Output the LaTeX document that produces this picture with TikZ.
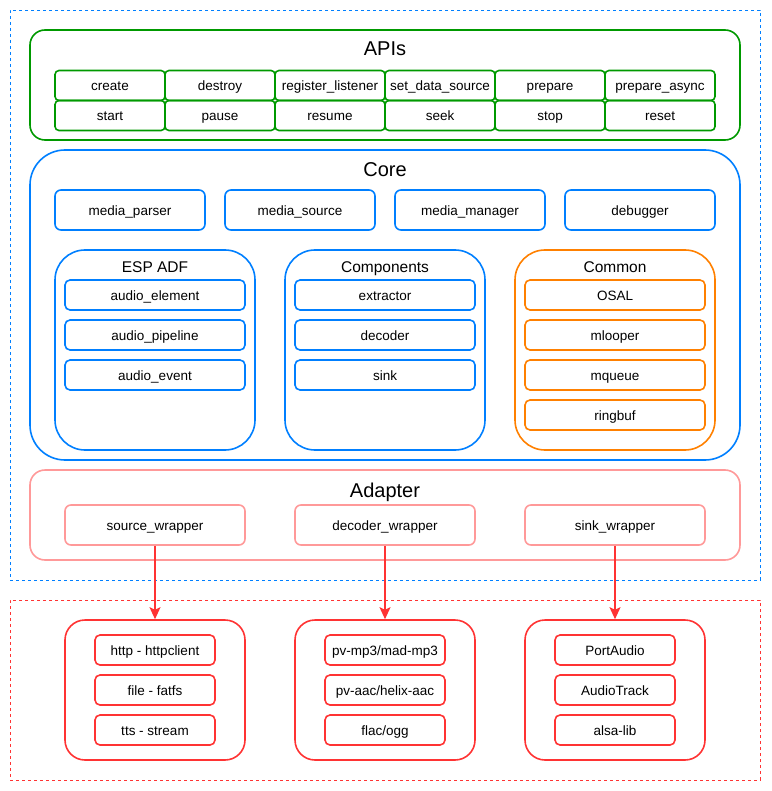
\documentclass[tikz,border=0pt]{standalone}
\usepackage{fontspec}
\setmainfont{Liberation Sans}
\usetikzlibrary{positioning, arrows.meta}
\definecolor{apigreen}{HTML}{009900}
\definecolor{coreblue}{HTML}{007FFF}
\definecolor{commonorange}{HTML}{FF8000}
\definecolor{adapterpink}{HTML}{FF9999}
\definecolor{libred}{HTML}{FF3333}
\tikzstyle{layerbox} = [dash pattern=on 3pt off 3pt, line width=0.8pt, rectangle, inner sep=0pt]
\tikzstyle{bigtitle} = [font=\fontsize{20}{24}\selectfont, inner sep=0pt, text height=14.5pt, text depth=4pt]
\tikzstyle{grouptitle} = [font=\fontsize{15.5}{18}\selectfont, inner sep=0pt, text height=11pt, text depth=3pt]
\tikzstyle{itemtext} = [inner sep=0pt, text height=11pt, text depth=0pt, font=\fontsize{13.5}{16}\selectfont]
\tikzstyle{apibox} = [draw=apigreen, line width=1.6pt, rectangle, rounded corners=15pt, minimum width=710pt, minimum height=110pt]
\tikzstyle{apicell} = [itemtext, draw=apigreen, line width=1.6pt, rectangle, rounded corners=4pt, minimum width=110pt, minimum height=30pt]
\tikzstyle{corebox} = [draw=coreblue, line width=1.6pt, rectangle, rounded corners=35pt, minimum width=710pt, minimum height=310pt]
\tikzstyle{coreitem} = [itemtext, draw=coreblue, line width=1.6pt, rectangle, rounded corners=6pt, minimum width=150pt, minimum height=40pt]
\tikzstyle{groupbox} = [line width=1.6pt, rectangle, rounded corners=30pt, minimum width=200pt, minimum height=200pt]
\tikzstyle{groupitem} = [itemtext, line width=1.6pt, rectangle, rounded corners=5pt, minimum width=180pt, minimum height=30pt]
\tikzstyle{adapterbox} = [draw=adapterpink, line width=1.6pt, rectangle, rounded corners=15pt, minimum width=710pt, minimum height=90pt]
\tikzstyle{wrapper} = [itemtext, draw=adapterpink, line width=1.6pt, rectangle, rounded corners=6pt, minimum width=180pt, minimum height=40pt]
\tikzstyle{libbox} = [draw=libred, line width=1.6pt, rectangle, rounded corners=20pt, minimum width=180pt, minimum height=140pt]
\tikzstyle{libitem} = [itemtext, draw=libred, line width=1.6pt, rectangle, rounded corners=5pt, minimum width=120pt, minimum height=30pt]
\tikzstyle{libarrow} = [draw=libred, line width=1.4pt, -{Stealth[length=12pt, width=11pt, inset=2.5pt]}]
\begin{document}
\begin{tikzpicture}[x=1pt, y=-1pt]
	\useasboundingbox (0,0) rectangle (771,791);
	% dashed layers
	\node[layerbox, draw=coreblue, minimum width=750pt, minimum height=570pt] (toplayer) at (385,295) {};
	\node[layerbox, draw=libred, minimum width=750pt, minimum height=180pt] (liblayer) at (385,690) {};
	% APIs
	\node[apibox] (apis) at (385,85) {};
	\node[bigtitle] at ([yshift=-21pt]apis.north) {APIs};
	\foreach \name [count=\i] in {create, destroy, register\_listener, set\_data\_source, prepare, prepare\_async}
		\node[apicell] (apiA-\i) at (110*\i,85.5) {\name};
	\foreach \name [count=\i] in {start, pause, resume, seek, stop, reset}
		\node[apicell] (apiB-\i) at (110*\i,115.5) {\name};
	% Core
	\node[corebox] (core) at (385,305) {};
	\node[bigtitle] at ([yshift=-22.5pt]core.north) {Core};
	\foreach \name [count=\i] in {media\_parser, media\_source, media\_manager, debugger}
		\node[coreitem] (core-\i) at (-40+170*\i,210) {\name};
	\node[groupbox, draw=coreblue] (espadf) at (155,350) {};
	\node[grouptitle] at ([yshift=-19pt]espadf.north) {ESP ADF};
	\foreach \name [count=\i] in {audio\_element, audio\_pipeline, audio\_event}
		\node[groupitem, draw=coreblue] (adf-\i) at (155,255+40*\i) {\name};
	\node[groupbox, draw=coreblue] (components) at (385,350) {};
	\node[grouptitle] at ([yshift=-19pt]components.north) {Components};
	\foreach \name [count=\i] in {extractor, decoder, sink}
		\node[groupitem, draw=coreblue] (comp-\i) at (385,255+40*\i) {\name};
	\node[groupbox, draw=commonorange] (common) at (615,350) {};
	\node[grouptitle] at ([yshift=-19pt]common.north) {Common};
	\foreach \name [count=\i] in {OSAL, mlooper, mqueue, ringbuf}
		\node[groupitem, draw=commonorange] (cmn-\i) at (615,255+40*\i) {\name};
	% Adapter
	\node[adapterbox] (adapter) at (385,515) {};
	\node[bigtitle] at ([yshift=-23pt]adapter.north) {Adapter};
	\node[wrapper] (srcwrap) at (155,525) {source\_wrapper};
	\node[wrapper] (decwrap) at (385,525) {decoder\_wrapper};
	\node[wrapper] (sinkwrap) at (615,525) {sink\_wrapper};
	% libraries
	\node[libbox] (srclib) at (155,690) {};
	\foreach \name [count=\i] in {http - httpclient, file - fatfs, tts - stream}
		\node[libitem] (src-\i) at (155,610+40*\i) {\name};
	\node[libbox] (declib) at (385,690) {};
	\foreach \name [count=\i] in {pv-mp3/mad-mp3, pv-aac/helix-aac, flac/ogg}
		\node[libitem] (dec-\i) at (385,610+40*\i) {\name};
	\node[libbox] (sinklib) at (615,690) {};
	\foreach \name [count=\i] in {PortAudio, AudioTrack, alsa-lib}
		\node[libitem] (snk-\i) at (615,610+40*\i) {\name};
	\draw[libarrow] (srcwrap) -- (srclib);
	\draw[libarrow] (decwrap) -- (declib);
	\draw[libarrow] (sinkwrap) -- (sinklib);
\end{tikzpicture}
\end{document}
